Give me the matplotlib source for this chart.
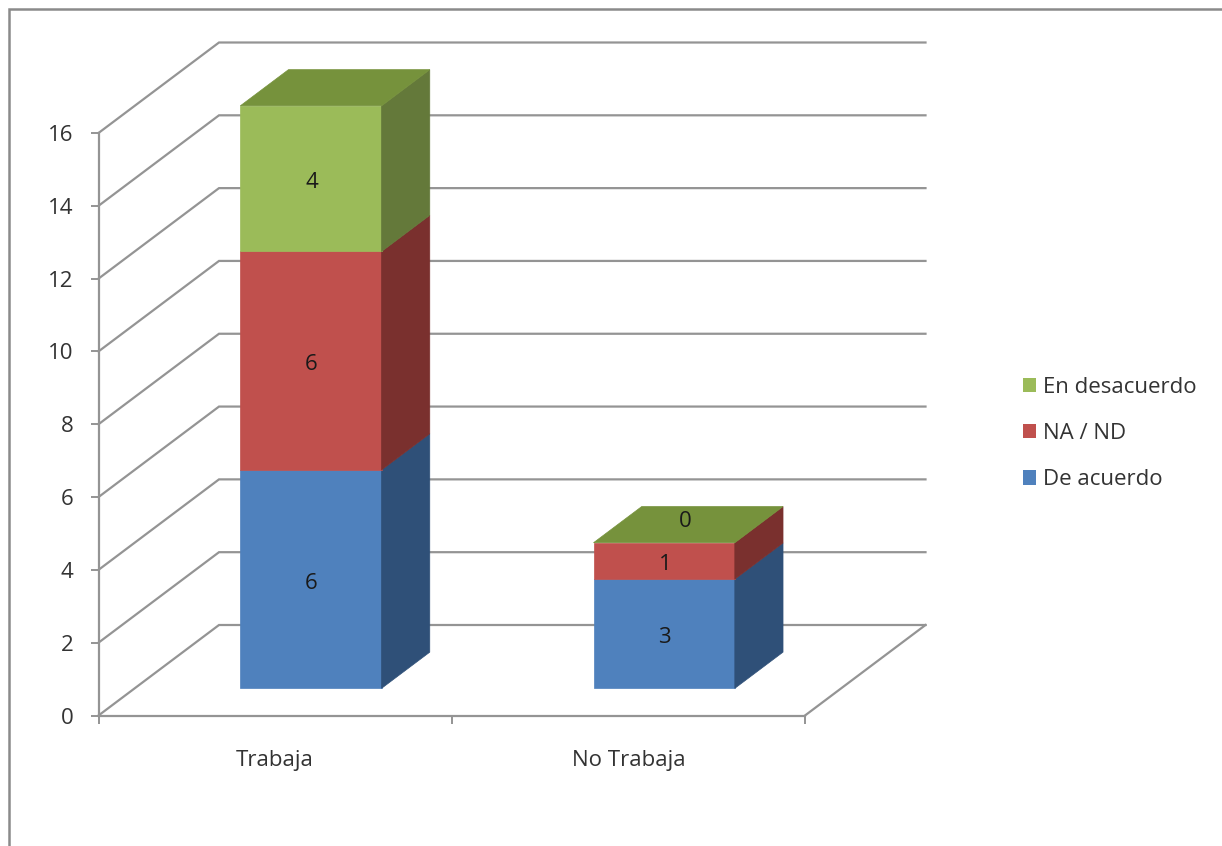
import matplotlib
matplotlib.use("Agg")
import matplotlib.pyplot as plt
from matplotlib.patches import Polygon, Rectangle
from matplotlib.lines import Line2D

plt.rcParams['font.family'] = ['Open Sans', 'DejaVu Sans']

categories = ["Trabaja", "No Trabaja"]
de_acuerdo = [6, 3]
na_nd = [6, 1]
en_desacuerdo = [4, 0]
series_names = ["De acuerdo", "NA / ND", "En desacuerdo"]
y_ticks = list(range(0, 17, 2))

W, H = 1222, 846
GREY = "#949494"
TEXT = "#333333"
FS = 16
front = ["#4F81BD", "#C0504D", "#9BBB59"]
side = ["#2F5078", "#7A302E", "#64793A"]
top = ["#3F6391", "#8A3A37", "#76923C"]

fig = plt.figure(figsize=(W / 100, H / 100), dpi=100, facecolor="white")
L, R, B, T = 98.5, 805, 715.5, 133
ax = fig.add_axes([L / W, 1 - B / H, (R - L) / W, (B - T) / H])
ax.set_xlim(0, 2)
ax.set_ylim(0, 16)
ax.patch.set_visible(False)

# depth projection, in data units per unit of depth
DX = 120.5 / ((R - L) / 2)
DY = 90.5 / ((B - T) / 16)


def proj(x, y, d):
    return (x + DX * d, y + DY * d)


for s in ("top", "right"):
    ax.spines[s].set_visible(False)
for s in ("left", "bottom"):
    ax.spines[s].set_color(GREY)
    ax.spines[s].set_linewidth(1.6)

ax.set_yticks(y_ticks)
ax.set_yticklabels([str(v) for v in y_ticks], fontsize=FS, color=TEXT)
ax.tick_params(axis="y", length=6, width=1.4, color=GREY, pad=12, direction="out")
ax.set_xticks([0, 1, 2])
ax.set_xticklabels(["", "", ""])
ax.set_xticks([0.5, 1.5], minor=True)
ax.set_xticklabels(categories, minor=True, fontsize=FS, color=TEXT)
ax.tick_params(axis="x", which="major", length=6, width=1.4, color=GREY, direction="out")
ax.tick_params(axis="x", which="minor", length=0, pad=24.5)

# walls and floor
for v in y_ticks:
    p0 = proj(0, v, 0)
    p1 = proj(0, v, 1)
    p2 = proj(2, v, 1)
    ax.plot([p0[0], p1[0], p2[0]], [p0[1], p1[1], p2[1]], color=GREY, lw=1.6,
            clip_on=False, zorder=1, solid_joinstyle="miter")
p1 = proj(2, 0, 0)
p2 = proj(2, 0, 1)
ax.plot([p1[0], p2[0]], [p1[1], p2[1]], color=GREY, lw=1.6, clip_on=False, zorder=1)

# stacked 3D bars
BAR_W = 0.40
D0, D1 = 0.30, 0.70
stack = [de_acuerdo, na_nd, en_desacuerdo]
for i, name in enumerate(categories):
    x0 = i + 0.299
    x1 = x0 + BAR_W
    base = 0
    for k, vals in enumerate(stack):
        v = vals[i]
        t = base + v
        if v > 0:
            ax.add_patch(Polygon([proj(x0, base, D0), proj(x1, base, D0),
                                  proj(x1, t, D0), proj(x0, t, D0)],
                                 closed=True, fc=front[k], ec=front[k], lw=0.5,
                                 clip_on=False, zorder=3))
            ax.add_patch(Polygon([proj(x1, base, D0), proj(x1, base, D1),
                                  proj(x1, t, D1), proj(x1, t, D0)],
                                 closed=True, fc=side[k], ec=side[k], lw=0.5,
                                 clip_on=False, zorder=3))
            cx, cy = proj((x0 + x1) / 2, base + v / 2, D0)
            off = (0.5, -2.8)
        else:
            cx, cy = proj((x0 + x1) / 2, base, (D0 + D1) / 2)
            off = (-2.2, 2)
        ax.annotate(str(v), (cx, cy), xytext=off, textcoords="offset points",
                    ha="center", va="center", fontsize=FS,
                    color="#1a1a1a", zorder=5, annotation_clip=False)
        base = t
    ax.add_patch(Polygon([proj(x0, base, D0), proj(x1, base, D0),
                          proj(x1, base, D1), proj(x0, base, D1)],
                         closed=True, fc=top[2], ec=top[2], lw=0.5,
                         clip_on=False, zorder=3))

# legend
handles = [Rectangle((0, 0), 1, 1, fc=front[k], ec="none") for k in (2, 1, 0)]
labels = [series_names[k] for k in (2, 1, 0)]
fig.legend(handles, labels, loc="center left",
           bbox_to_anchor=(1023 / W, 1 - 433.5 / H), frameon=False, fontsize=FS,
           labelcolor=TEXT, handlelength=0.6, handleheight=0.6,
           handletextpad=0.32, labelspacing=1.14, borderpad=0, borderaxespad=0)

# picture frame
fig.add_artist(Line2D([9 / W, 9 / W, 1], [0, 1 - 9.5 / H, 1 - 9.5 / H],
                      transform=fig.transFigure, color="#8a8a8a", lw=1.8,
                      solid_joinstyle="miter"))

fig.savefig("out.png", dpi=100)
